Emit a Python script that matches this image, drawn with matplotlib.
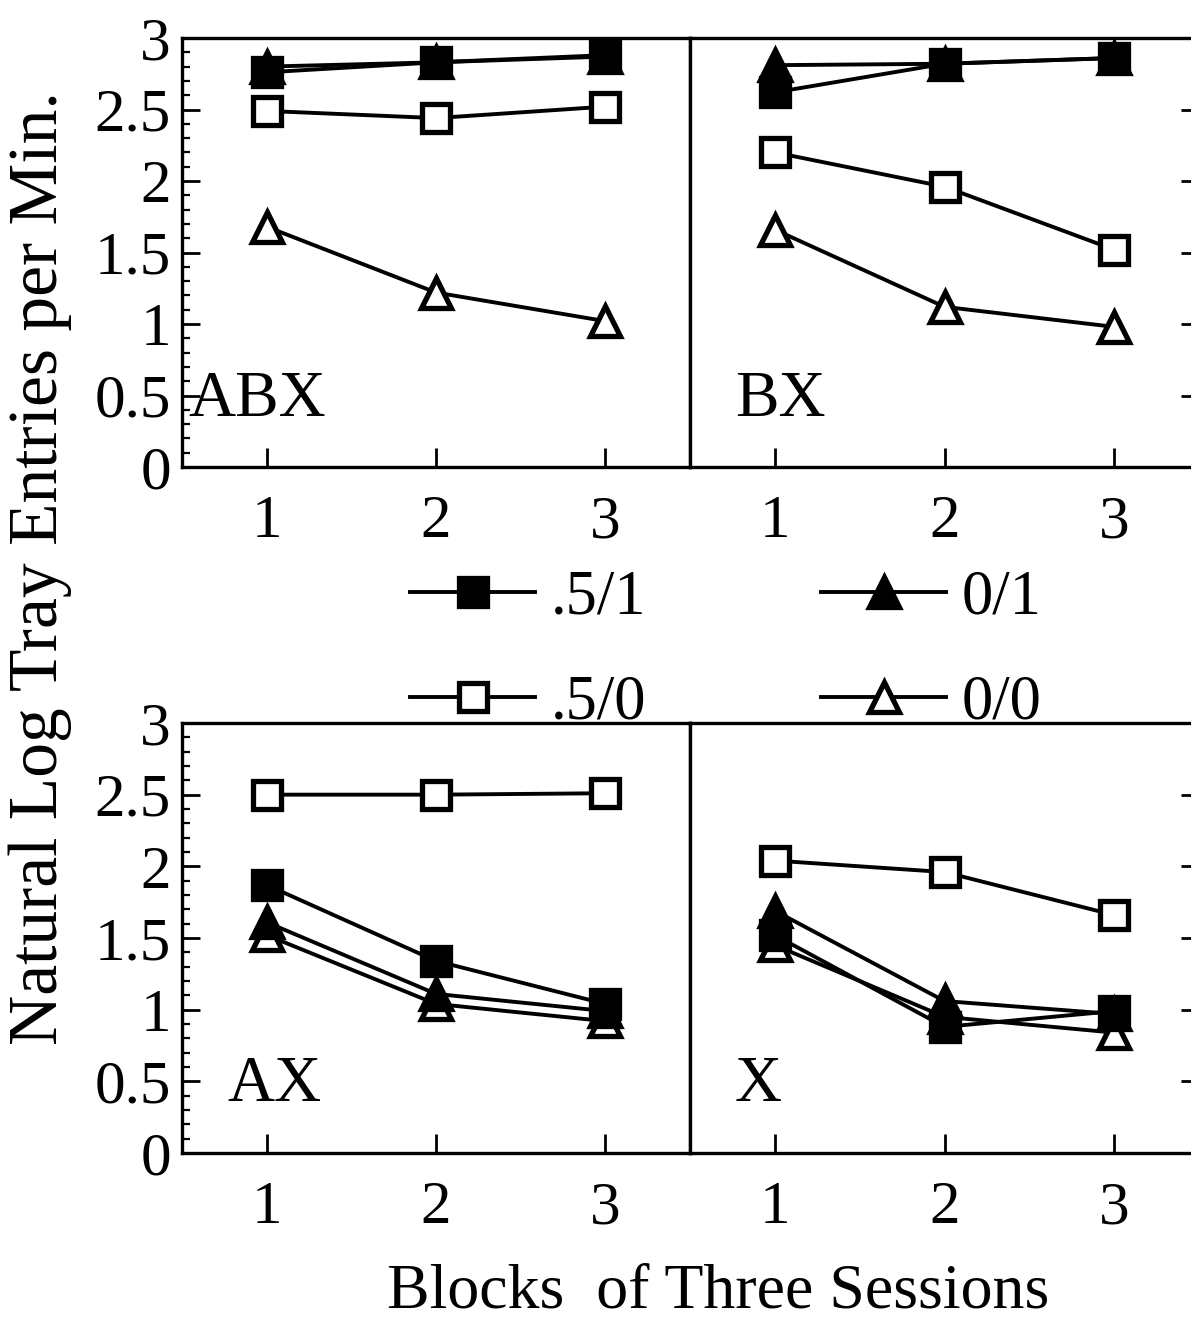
import numpy as np
import matplotlib
matplotlib.use("Agg")
import matplotlib.pyplot as plt
from matplotlib.ticker import MultipleLocator, FixedLocator, FixedFormatter

plt.rcParams['font.family'] = ['Liberation Serif', 'DejaVu Serif']

# data
blocks = [1, 2, 3]
groups = ['.5/1', '.5/0', '0/1', '0/0']
panels = ['ABX', 'BX', 'AX', 'X']

abx_51 = [2.76, 2.83, 2.88]
abx_50 = [2.49, 2.44, 2.52]
abx_01 = [2.80, 2.83, 2.87]
abx_00 = [1.68, 1.22, 1.02]

bx_51 = [2.62, 2.82, 2.86]
bx_50 = [2.20, 1.96, 1.52]
bx_01 = [2.81, 2.82, 2.86]
bx_00 = [1.66, 1.12, 0.98]

ax_51 = [1.87, 1.34, 1.04]
ax_50 = [2.50, 2.50, 2.51]
ax_01 = [1.61, 1.11, 0.99]
ax_00 = [1.52, 1.04, 0.92]

x_51 = [1.52, 0.88, 0.99]
x_50 = [2.04, 1.96, 1.66]
x_01 = [1.69, 1.06, 0.97]
x_00 = [1.45, 0.95, 0.84]

ytick_vals = [0, 0.5, 1, 1.5, 2, 2.5, 3]
ytick_labels = ['0', '0.5', '1', '1.5', '2', '2.5', '3']
xtick_labels = ['1', '2', '3']

panel_data = {
    'ABX': [abx_51, abx_50, abx_01, abx_00],
    'BX': [bx_51, bx_50, bx_01, bx_00],
    'AX': [ax_51, ax_50, ax_01, ax_00],
    'X': [x_51, x_50, x_01, x_00],
}

# marker style per group: (marker, face, zorder)
styles = [('s', 'black', 6), ('s', 'white', 4), ('^', 'black', 5), ('^', 'white', 3)]

fig = plt.figure(figsize=(11.91, 13.26), dpi=100)
W, H = 1191, 1326
pos = {
    'ABX': [182 / W, 1 - 467 / H, 508 / W, 429 / H],
    'BX': [690 / W, 1 - 467 / H, 509 / W, 429 / H],
    'AX': [182 / W, 1 - 1153 / H, 508 / W, 430 / H],
    'X': [690 / W, 1 - 1153 / H, 509 / W, 430 / H],
}

handles = []
for name in panels:
    ax = fig.add_axes(pos[name])
    for (mk, fc, z), vals, g in zip(styles, panel_data[name], groups):
        ms = 20 if mk == 's' else 22
        ln, = ax.plot(blocks, vals, color='black', lw=2.8, marker=mk, ms=ms,
                      mfc=fc, mec='black', mew=3.8, zorder=z, label=g,
                      clip_on=False)
        if name == 'ABX':
            handles.append(ln)
    ax.set_xlim(0.5, 3.5)
    ax.set_ylim(0, 3)
    ax.xaxis.set_major_locator(FixedLocator(blocks))
    ax.xaxis.set_major_formatter(FixedFormatter(xtick_labels))
    ax.tick_params(axis='x', direction='in', length=14, width=2, pad=20,
                   labelsize=44, top=False)
    ax.yaxis.set_major_locator(FixedLocator(ytick_vals))
    ax.yaxis.set_minor_locator(MultipleLocator(0.1))
    left = name in ('ABX', 'AX')
    if left:
        ax.yaxis.set_major_formatter(FixedFormatter(ytick_labels))
        ax.tick_params(axis='y', which='both', direction='in', left=True, right=False,
                       labelleft=True, labelsize=44, pad=8)
    else:
        ax.yaxis.set_ticks_position('right')
        ax.tick_params(axis='y', which='both', direction='in', left=False, right=True,
                       labelleft=False, labelright=False)
    ax.tick_params(axis='y', which='major', length=13, width=2)
    ax.tick_params(axis='y', which='minor', length=6, width=1.6)
    for s in ax.spines.values():
        s.set_linewidth(2.4)
    ax.text(0.54 if name == 'ABX' else (0.77 if name == 'AX' else 0.765),
            0.36, name, fontsize=47, va='baseline', ha='left', zorder=10)

fig.text(40 / W, 1 - 568 / H, 'Natural Log Tray Entries per Min.', rotation=90,
         fontsize=50, ha='center', va='center')
fig.text(718 / W, 1 - 1292 / H, 'Blocks  of Three Sessions', fontsize=46,
         ha='center', va='center')

fig.legend(handles, groups, ncol=2, loc='upper left',
           bbox_to_anchor=(410 / W, 1 - 570 / H), frameon=False, fontsize=45,
           handlelength=2.0, handletextpad=0.25, columnspacing=2.8,
           labelspacing=0.75, borderpad=0, borderaxespad=0)

fig.savefig('out.png', dpi=100)
